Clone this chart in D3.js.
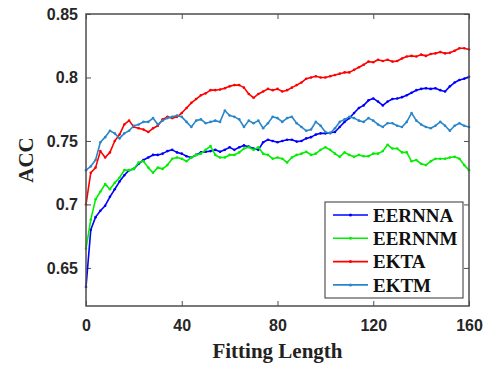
<!DOCTYPE html>
<html>
<head>
<meta charset="utf-8">
<script src="https://cdn.jsdelivr.net/npm/d3@7"></script>
<style>
  body { margin: 0; background: #fff; }
  svg { display: block; }
</style>
</head>
<body>
<svg id="chart" width="483" height="368"></svg>
<script>
// Fitting length sampled every 2 steps
const fittingLength = d3.range(0, 161, 2);

const seriesNames = ['EERNNA', 'EERNNM', 'EKTA', 'EKTM'];
const seriesColors = ['#0000ff', '#00ee00', '#ff0000', '#2a86c8'];

const eernna = [
  0.635, 0.680, 0.690, 0.695, 0.699, 0.706, 0.712, 0.718, 0.723, 0.727,
  0.728, 0.732, 0.735, 0.737, 0.739, 0.739, 0.740, 0.742, 0.743, 0.741,
  0.740, 0.738, 0.737, 0.739, 0.741, 0.7415, 0.742, 0.743, 0.7415, 0.743,
  0.745, 0.743, 0.745, 0.7465, 0.7455, 0.744, 0.743, 0.749, 0.751, 0.750,
  0.749, 0.750, 0.751, 0.751, 0.7495, 0.750, 0.752, 0.753, 0.755, 0.756,
  0.756, 0.7565, 0.757, 0.761, 0.765, 0.768, 0.772, 0.776, 0.778, 0.782,
  0.7835, 0.781, 0.778, 0.781, 0.783, 0.7835, 0.7845, 0.786, 0.788, 0.790,
  0.791, 0.7915, 0.791, 0.7915, 0.790, 0.789, 0.793, 0.796, 0.798, 0.799,
  0.8005
];

const eernnm = [
  0.665, 0.688, 0.704, 0.710, 0.716, 0.712, 0.717, 0.721, 0.727, 0.727,
  0.728, 0.733, 0.734, 0.729, 0.725, 0.729, 0.728, 0.731, 0.736, 0.737,
  0.736, 0.734, 0.737, 0.739, 0.740, 0.743, 0.746, 0.739, 0.737, 0.737,
  0.739, 0.739, 0.741, 0.744, 0.745, 0.743, 0.745, 0.740, 0.739, 0.736,
  0.737, 0.736, 0.733, 0.737, 0.739, 0.740, 0.7415, 0.739, 0.740, 0.743,
  0.745, 0.743, 0.740, 0.7375, 0.741, 0.739, 0.7375, 0.739, 0.738, 0.738,
  0.740, 0.740, 0.742, 0.747, 0.744, 0.744, 0.741, 0.741, 0.734, 0.735,
  0.732, 0.731, 0.734, 0.736, 0.736, 0.736, 0.737, 0.7375, 0.736, 0.731,
  0.727
];

const ekta = [
  0.700, 0.725, 0.729, 0.742, 0.737, 0.741, 0.750, 0.755, 0.763, 0.766,
  0.761, 0.760, 0.759, 0.757, 0.760, 0.762, 0.767, 0.769, 0.768, 0.769,
  0.772, 0.776, 0.780, 0.783, 0.786, 0.7875, 0.790, 0.790, 0.7905, 0.7915,
  0.793, 0.794, 0.794, 0.792, 0.787, 0.784, 0.787, 0.789, 0.791, 0.790,
  0.791, 0.789, 0.790, 0.792, 0.794, 0.796, 0.799, 0.800, 0.801, 0.800,
  0.800, 0.801, 0.802, 0.803, 0.804, 0.804, 0.806, 0.808, 0.810, 0.8125,
  0.812, 0.814, 0.813, 0.814, 0.8125, 0.813, 0.815, 0.8165, 0.817, 0.8165,
  0.818, 0.817, 0.8185, 0.819, 0.820, 0.819, 0.8195, 0.821, 0.823, 0.823,
  0.822
];

const ektm = [
  0.727, 0.730, 0.735, 0.749, 0.753, 0.758, 0.756, 0.752, 0.756, 0.758,
  0.762, 0.763, 0.765, 0.765, 0.768, 0.763, 0.766, 0.768, 0.769, 0.770,
  0.769, 0.765, 0.761, 0.766, 0.767, 0.764, 0.765, 0.766, 0.765, 0.774,
  0.770, 0.769, 0.767, 0.761, 0.766, 0.764, 0.766, 0.760, 0.764, 0.769,
  0.768, 0.765, 0.768, 0.769, 0.764, 0.761, 0.758, 0.759, 0.765, 0.762,
  0.757, 0.756, 0.760, 0.765, 0.767, 0.769, 0.768, 0.766, 0.765, 0.768,
  0.766, 0.763, 0.761, 0.764, 0.764, 0.762, 0.761, 0.765, 0.772, 0.766,
  0.763, 0.761, 0.760, 0.762, 0.765, 0.762, 0.758, 0.762, 0.764, 0.762,
  0.761
];

const xTicks = [0, 40, 80, 120, 160];
const yTicks = [0.65, 0.7, 0.75, 0.8, 0.85];

const series = [eernna, eernnm, ekta, ektm].map((vals, i) => ({
  name: seriesNames[i],
  color: seriesColors[i],
  points: vals.map((v, j) => ({ x: fittingLength[j], y: v }))
}));

const width = 483, height = 368;
const margin = { top: 14, right: 14, bottom: 62, left: 86 };
const innerW = width - margin.left - margin.right;
const innerH = height - margin.top - margin.bottom;

const svg = d3.select('#chart');
const g = svg.append('g').attr('transform', `translate(${margin.left},${margin.top})`);

const x = d3.scaleLinear().domain([0, 160]).range([0, innerW]);
const y = d3.scaleLinear().domain([0.62, 0.85]).range([innerH, 0]);

const axisColor = '#4d4d4d';
const tickFont = 'bold 16px "Liberation Sans", Arial, sans-serif';

// Axes (ticks point inward, box drawn on all sides)
const styleAxis = (sel) => {
  sel.select('.domain').remove();
  sel.selectAll('.tick line').attr('stroke', axisColor).attr('stroke-width', 1);
  sel.selectAll('.tick text').style('font', tickFont).attr('fill', '#262626');
};

g.append('g')
  .attr('transform', `translate(0,${innerH})`)
  .call(d3.axisBottom(x).tickValues(xTicks).tickSize(-5).tickPadding(14).tickFormat(d3.format('d')))
  .call(styleAxis);

g.append('g')
  .call(d3.axisLeft(y).tickValues(yTicks).tickSize(-5).tickPadding(8).tickFormat(d => d3.format('')(+d.toFixed(2))))
  .call(styleAxis);

g.append('g')
  .call(d3.axisTop(x).tickValues(xTicks).tickSize(-5).tickFormat(''))
  .call(styleAxis);

g.append('g')
  .attr('transform', `translate(${innerW},0)`)
  .call(d3.axisRight(y).tickValues(yTicks).tickSize(-5).tickFormat(''))
  .call(styleAxis);

// Lines
const line = d3.line().x(d => x(d.x)).y(d => y(d.y));

const lines = g.append('g').attr('class', 'lines');
series.forEach(s => {
  lines.append('path')
    .datum(s.points)
    .attr('fill', 'none')
    .attr('stroke', s.color)
    .attr('stroke-width', 1.6)
    .attr('stroke-linejoin', 'round')
    .attr('d', line);

  lines.append('g')
    .selectAll('circle')
    .data(s.points)
    .enter()
    .append('circle')
    .attr('cx', d => x(d.x))
    .attr('cy', d => y(d.y))
    .attr('r', 1.3)
    .attr('fill', s.color);
});

// Box
g.append('rect')
  .attr('width', innerW)
  .attr('height', innerH)
  .attr('fill', 'none')
  .attr('stroke', axisColor)
  .attr('stroke-width', 1.5);

// Legend
const legend = g.append('g').attr('transform', `translate(${325 - margin.left},${202 - margin.top})`);
legend.append('rect')
  .attr('width', 138)
  .attr('height', 96)
  .attr('fill', '#fff')
  .attr('stroke', '#333')
  .attr('stroke-width', 1);

series.forEach((s, i) => {
  const row = legend.append('g').attr('transform', `translate(0,${13 + i * 23.3})`);
  row.append('line')
    .attr('x1', 8).attr('x2', 43)
    .attr('stroke', s.color)
    .attr('stroke-width', 1.6);
  row.append('circle').attr('cx', 25.5).attr('r', 1.5).attr('fill', s.color);
  row.append('text')
    .attr('x', 48)
    .attr('dy', '0.35em')
    .style('font', 'bold 19px "Liberation Serif", "Times New Roman", serif')
    .attr('fill', '#111')
    .text(s.name);
});

// Axis titles
svg.append('text')
  .attr('x', margin.left + innerW / 2)
  .attr('y', 358)
  .attr('text-anchor', 'middle')
  .style('font', 'bold 21px "Liberation Serif", "Times New Roman", serif')
  .attr('fill', '#222')
  .text('Fitting Length');

svg.append('text')
  .attr('transform', `translate(33,${margin.top + innerH / 2}) rotate(-90)`)
  .attr('text-anchor', 'middle')
  .style('font', 'bold 21px "Liberation Serif", "Times New Roman", serif')
  .attr('fill', '#222')
  .text('ACC');
</script>
</body>
</html>
